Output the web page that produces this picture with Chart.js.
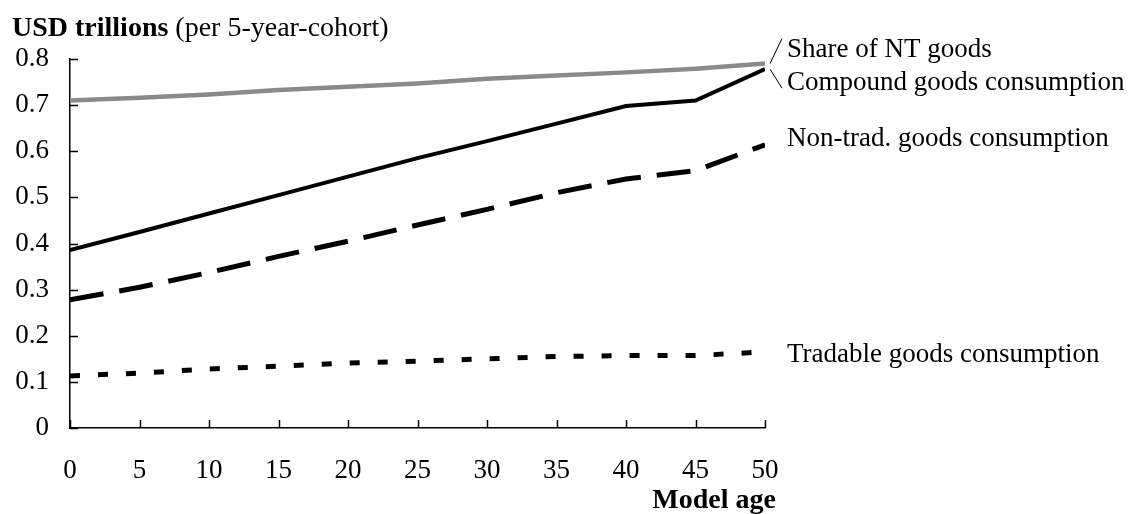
<!DOCTYPE html>
<html>
<head>
<meta charset="utf-8">
<script src="https://cdn.jsdelivr.net/npm/chart.js@4.4.1/dist/chart.umd.min.js"></script>
<style>
  html, body { margin: 0; padding: 0; background: #fff; }
  #wrap { width: 1128px; height: 514px; }
</style>
</head>
<body>
<div id="wrap"><canvas id="grafica"></canvas></div>
<script>
// Edad del modelo (eje x) y series
const edades = [0, 5, 10, 15, 20, 25, 30, 35, 40, 45, 50];
const shareNT = [0.710, 0.716, 0.723, 0.733, 0.740, 0.747, 0.757, 0.764, 0.771, 0.779, 0.790];
const compound = [0.386, 0.425, 0.465, 0.505, 0.545, 0.585, 0.622, 0.660, 0.698, 0.710, 0.778];
const nonTrad = [0.278, 0.305, 0.337, 0.372, 0.405, 0.440, 0.474, 0.510, 0.540, 0.558, 0.614];
const tradable = [0.113, 0.119, 0.128, 0.134, 0.141, 0.145, 0.150, 0.155, 0.157, 0.157, 0.165];
const yTicks = [0, 0.1, 0.2, 0.3, 0.4, 0.5, 0.6, 0.7, 0.8];

const etiquetas = ['Share of NT goods', 'Compound goods consumption', 'Non-trad. goods consumption', 'Tradable goods consumption'];

const fuente = '"Liberation Serif", "Times New Roman", serif';

// Dibuja marcas hacia dentro, títulos y etiquetas a la derecha
const extras = {
    id: 'extras',
    afterDraw(chart) {
        const ctx = chart.ctx;
        const xs = chart.scales.x;
        const ys = chart.scales.y;
        const area = chart.chartArea;
        ctx.save();
        ctx.strokeStyle = '#000';
        ctx.lineWidth = 1.5;
        ctx.beginPath();
        yTicks.forEach(v => {
            const py = Math.round(ys.getPixelForValue(v)) + 0.5;
            ctx.moveTo(area.left, py);
            ctx.lineTo(area.left + 8, py);
        });
        edades.forEach(v => {
            const px = Math.round(xs.getPixelForValue(v)) + 0.5;
            ctx.moveTo(px, area.bottom);
            ctx.lineTo(px, area.bottom - 8);
        });
        ctx.stroke();

        // Título del eje y
        ctx.fillStyle = '#000';
        ctx.textBaseline = 'alphabetic';
        ctx.textAlign = 'left';
        ctx.font = 'bold 28px ' + fuente;
        ctx.fillText('USD trillions', 12, 36);
        const w = ctx.measureText('USD trillions ').width;
        ctx.font = '28px ' + fuente;
        ctx.fillText('(per 5-year-cohort)', 12 + w, 36);

        // Título del eje x
        ctx.font = 'bold 28px ' + fuente;
        ctx.textAlign = 'right';
        ctx.fillText('Model age', 776, 508);

        // Etiquetas de series
        const ultimo = edades.length - 1;
        const xEnd = xs.getPixelForValue(edades[ultimo]);
        const tx = xEnd + 22;
        ctx.font = '27px ' + fuente;
        ctx.textAlign = 'left';
        const yShare = ys.getPixelForValue(shareNT[ultimo]);
        const yComp = ys.getPixelForValue(compound[ultimo]);
        ctx.fillText(etiquetas[0], tx, yShare - 7);
        ctx.fillText(etiquetas[1], tx, yComp + 21);
        ctx.fillText(etiquetas[2], tx, ys.getPixelForValue(nonTrad[ultimo]) + 1);
        ctx.fillText(etiquetas[3], tx, ys.getPixelForValue(tradable[ultimo]) + 10);

        // Líneas guía
        ctx.lineWidth = 1;
        ctx.beginPath();
        ctx.moveTo(xEnd + 5, yShare);
        ctx.lineTo(tx - 5, yShare - 25);
        ctx.moveTo(xEnd + 5, yComp);
        ctx.lineTo(tx - 5, yComp + 19);
        ctx.stroke();
        ctx.restore();
    }
};

const ctx = document.getElementById('grafica').getContext('2d');
new Chart(ctx, {
    type: 'line',
    data: {
        labels: edades,
        datasets: [
            {
                label: etiquetas[0],
                data: shareNT,
                borderColor: '#8a8a8a',
                borderWidth: 4.5,
                pointRadius: 0,
                tension: 0
            },
            {
                label: etiquetas[1],
                data: compound,
                borderColor: '#000',
                borderWidth: 4,
                pointRadius: 0,
                tension: 0
            },
            {
                label: etiquetas[2],
                data: nonTrad,
                borderColor: '#000',
                borderWidth: 5,
                borderDash: [34, 16],
                pointRadius: 0,
                tension: 0
            },
            {
                label: etiquetas[3],
                data: tradable,
                borderColor: '#000',
                borderWidth: 5,
                borderDash: [10, 18],
                pointRadius: 0,
                tension: 0
            }
        ]
    },
    options: {
        responsive: true,
        maintainAspectRatio: false,
        animation: false,
        layout: { padding: { top: 59, right: 363, left: 0, bottom: 0 } },
        plugins: {
            legend: { display: false },
            tooltip: { enabled: false }
        },
        scales: {
            x: {
                type: 'linear',
                min: 0,
                max: 50,
                afterFit: s => { s.height = 86; },
                afterBuildTicks: s => { s.ticks = edades.map(v => ({ value: v })); },
                grid: { display: false },
                border: { display: true, color: '#000', width: 1.5 },
                ticks: {
                    color: '#000',
                    padding: 19,
                    maxRotation: 0,
                    font: { family: fuente, size: 27 }
                }
            },
            y: {
                min: 0,
                max: 0.8,
                afterFit: s => { s.width = 70; },
                afterBuildTicks: s => { s.ticks = yTicks.map(v => ({ value: v })); },
                grid: { display: false },
                border: { display: true, color: '#000', width: 1.5 },
                ticks: {
                    color: '#000',
                    padding: 13,
                    font: { family: fuente, size: 27 },
                    callback: v => v === 0 ? '0' : v.toFixed(1)
                }
            }
        }
    },
    plugins: [extras]
});
</script>
</body>
</html>
